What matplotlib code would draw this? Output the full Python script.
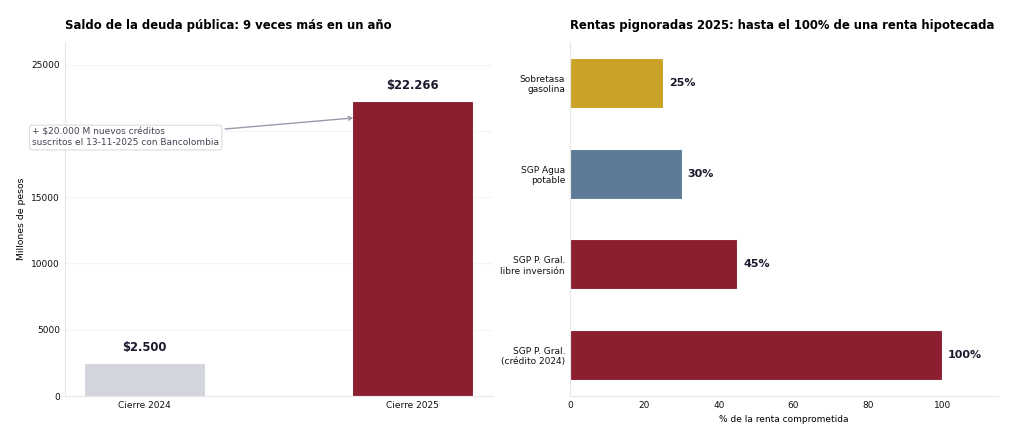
import matplotlib.pyplot as plt

# Datos
periodos = ['Cierre 2024', 'Cierre 2025']
saldo_deuda = [2500, 22266]
etiquetas_saldo = ['$2.500', '$22.266']
colores_saldo = ['#d3d5dc', '#8b1e2f']

rentas = ['SGP P. Gral.\n(crédito 2024)', 'SGP P. Gral.\nlibre inversión',
          'SGP Agua\npotable', 'Sobretasa\ngasolina']
pct_comprometido = [100, 45, 30, 25]
colores_rentas = ['#8b1e2f', '#8b1e2f', '#5b7b96', '#c9a227']

nota = '+ $20.000 M nuevos créditos\nsuscritos el 13-11-2025 con Bancolombia'


def plot_deuda():
    fig = plt.figure(figsize=(10.24, 4.41), dpi=100)
    ax1 = fig.add_axes([0.0635, 0.102, 0.417, 0.803])
    ax2 = fig.add_axes([0.5566, 0.102, 0.418, 0.803])

    gris = '#e6e6e6'

    # Saldo de la deuda
    ax1.bar(periodos, saldo_deuda, width=0.45, color=colores_saldo,
            edgecolor='white', linewidth=0.8, zorder=2)
    for i, (v, t) in enumerate(zip(saldo_deuda, etiquetas_saldo)):
        ax1.text(i, v + 700, t, ha='center', va='bottom',
                 fontsize=8.4, fontweight='bold', color='#1a1a2e')
    ax1.set_ylim(0, max(saldo_deuda) * 1.2)
    ax1.set_yticks([0, 5000, 10000, 15000, 20000, 25000])
    ax1.set_ylabel('Millones de pesos', fontsize=6.7)
    ax1.set_title('Saldo de la deuda pública: 9 veces más en un año',
                  loc='left', fontsize=8.4, fontweight='bold', pad=9)
    ax1.grid(axis='y', color='#f4f4f4', linewidth=0.8, zorder=0)
    ax1.annotate(nota, xy=(0.79, 21000), xytext=(-0.42, 19500),
                 fontsize=6.5, color='#444455', va='center', ha='left', zorder=5,
                 bbox=dict(boxstyle='round,pad=0.3', fc='white', ec='#dddddd', lw=0.8),
                 arrowprops=dict(arrowstyle='->', color='#9a9aaa', lw=1))

    # Rentas pignoradas
    ax2.barh(rentas, pct_comprometido, height=0.55, color=colores_rentas,
             edgecolor='white', linewidth=0.8, zorder=2)
    for i, v in enumerate(pct_comprometido):
        ax2.text(v + 1.6, i, f'{v}%', ha='left', va='center',
                 fontsize=8, fontweight='bold', color='#1a1a2e')
    ax2.set_xlim(0, 115)
    ax2.set_xlabel('% de la renta comprometida', fontsize=6.5)
    ax2.set_title('Rentas pignoradas 2025: hasta el 100% de una renta hipotecada',
                  loc='left', fontsize=8.4, fontweight='bold', pad=9)

    for ax in (ax1, ax2):
        for s in ('top', 'right'):
            ax.spines[s].set_visible(False)
        for s in ('left', 'bottom'):
            ax.spines[s].set_color(gris)
        ax.tick_params(length=0, labelsize=6.5, colors='#111111')

    plt.savefig('out.png', dpi=100)
    plt.close()


if __name__ == '__main__':
    plot_deuda()
